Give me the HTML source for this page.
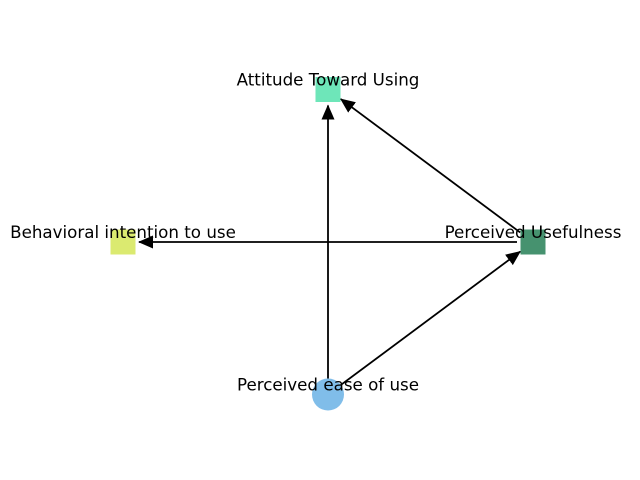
<!DOCTYPE html>
<html><head><meta charset="utf-8"><style>body{margin:0;background:#fff}svg{display:block}text{font-family:"DejaVu Sans","Liberation Sans",sans-serif;font-size:16.7px;fill:#000}</style></head>
<body>
<svg width="640" height="480">
<defs><marker id="ah" markerWidth="15" markerHeight="13" refX="14" refY="6.5" orient="auto" markerUnits="userSpaceOnUse"><path d="M0,0 L15,6.5 L0,13 z" fill="#000"/></marker></defs>
<g id="nodes"></g><g id="edges"></g><g id="labels"></g>
</svg>
<script>
const nodeNames=["Attitude Toward Using","Perceived Usefulness","Behavioral intention to use","Perceived ease of use"];
const nodeX=[0,1,-1,0];
const nodeY=[1,0,0,-1];
const nodeColors=["#6ee6b9","#46926f","#dbea70","#80bde9"];
const nodeShapes=["square","square","square","circle"];
const edgeFrom=[3,1,1,3];
const edgeTo=[0,0,2,1];
const ns="http://www.w3.org/2000/svg";
const sx=v=>328+v*205, sy=v=>242-v*152.5;
const gN=document.getElementById('nodes'),gE=document.getElementById('edges'),gL=document.getElementById('labels');
nodeNames.forEach((n,i)=>{
 let el;const x=sx(nodeX[i]),y=sy(nodeY[i]);
 if(nodeShapes[i]==="circle"){el=document.createElementNS(ns,'circle');el.setAttribute('cx',x);el.setAttribute('cy',y);el.setAttribute('r',16);}
 else{el=document.createElementNS(ns,'rect');el.setAttribute('x',x-12.5);el.setAttribute('y',y-12.5);el.setAttribute('width',25);el.setAttribute('height',25);}
 el.setAttribute('fill',nodeColors[i]);
 
 
 gN.appendChild(el);
 const t=document.createElementNS(ns,'text');t.setAttribute('x',x);t.setAttribute('y',y-4);t.setAttribute('text-anchor','middle');t.textContent=n;
 
 
 gL.appendChild(t);
});
edgeFrom.forEach((f,i)=>{
 const t=edgeTo[i];
 const x1=sx(nodeX[f]),y1=sy(nodeY[f]),x2=sx(nodeX[t]),y2=sy(nodeY[t]);
 const dx=x2-x1,dy=y2-y1,L=Math.hypot(dx,dy),ux=dx/L,uy=dy/L;
 const gap=16;
 const l=document.createElementNS(ns,'line');
 l.setAttribute('x1',x1+ux*gap);l.setAttribute('y1',y1+uy*gap);l.setAttribute('x2',x2-ux*gap);l.setAttribute('y2',y2-uy*gap);
 l.setAttribute('stroke','#000');l.setAttribute('stroke-width','1.8');l.setAttribute('marker-end','url(#ah)');
 
 
 gE.appendChild(l);
});
</script>
</body></html>
